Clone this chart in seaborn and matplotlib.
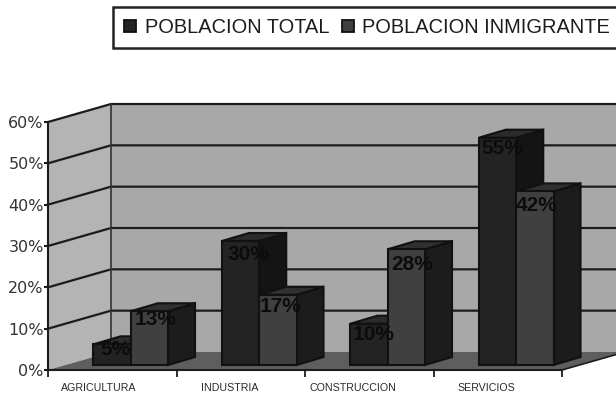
import matplotlib
matplotlib.use("Agg")
import matplotlib.pyplot as plt
from matplotlib.patches import Polygon, Patch
from matplotlib.transforms import Affine2D
import pandas as pd
import seaborn as sns

sectors = ["AGRICULTURA", "INDUSTRIA", "CONSTRUCCION", "SERVICIOS"]
total_pct = [5, 30, 10, 55]
immigrant_pct = [13, 17, 28, 42]
series_names = ["POBLACION TOTAL", "POBLACION INMIGRANTE"]
pct_ticks = [0, 10, 20, 30, 40, 50, 60]

# label nudges in pixels, one per bar
label_dx = [[3, 8, 4, 5], [6, 3, 6, 2]]
label_dy = [[-5, -13, -11, -11], [-8, -12, -15, -14]]
# horizontal shift of each category label, in pixels
sector_shift = [-14, -11, -16, -11]

front_colors = ["#232323", "#404040"]
side_colors = ["#141414", "#1c1c1c"]
top_colors = ["#2b2b2b", "#303030"]
INK = "#111111"

W, H = 616, 393
sns.set_theme(style="white")
plt.rcParams["font.family"] = ["DejaVu Sans"]
fig = plt.figure(figsize=(W / 100, H / 100), dpi=100)
ax = fig.add_axes([48 / W, (H - 370) / H, 514 / W, 248 / H])

df = pd.DataFrame({
    "sector": sectors * 2,
    "pct": total_pct + immigrant_pct,
    "serie": [series_names[0]] * 4 + [series_names[1]] * 4,
})
sns.barplot(data=df, x="sector", y="pct", hue="serie", order=sectors,
            hue_order=series_names, palette=front_colors, saturation=1,
            width=0.58, gap=0, legend=False, ax=ax, zorder=5)
ax.set_xlim(-0.5, 3.5)
ax.set_ylim(0, 60)
ax.set_xlabel("")
ax.set_ylabel("")

px_x = 514 / 4      # pixels per category
px_y = 248 / 60     # pixels per percentage point


def deep(x, y, dx, dy):
    """Data point displaced by a depth vector given in pixels."""
    return (x + dx / px_x, y + dy / px_y)


WALL_DX, WALL_DY = 63, 18
BAR_DX, BAR_DY = 27, 8
PLANE_DX, PLANE_DY = 18.5, 5
x0, x1 = -0.5, 3.5


def face(points, color, z):
    ax.add_patch(Polygon(points, closed=True, facecolor=color, edgecolor=color,
                         linewidth=0, zorder=z, clip_on=False))


# side wall, back wall and floor
face([(x0, 0), (x0, 60), deep(x0, 60, WALL_DX, WALL_DY), deep(x0, 0, WALL_DX, WALL_DY)], "#b4b4b4", 1)
face([deep(x0, 0, WALL_DX, WALL_DY), deep(x0, 60, WALL_DX, WALL_DY),
      deep(x1, 60, WALL_DX, WALL_DY), deep(x1, 0, WALL_DX, WALL_DY)], "#a8a8a8", 1)
face([(x0, 0), (x1, 0), deep(x1, 0, WALL_DX, WALL_DY), deep(x0, 0, WALL_DX, WALL_DY)], "#5e5e5e", 2)

# gridlines fold from the side wall onto the back wall
for t in pct_ticks[1:]:
    a = deep(x0, t, WALL_DX, WALL_DY)
    b = deep(x1, t, WALL_DX, WALL_DY)
    ax.plot([x0, a[0], b[0]], [t, a[1], b[1]], color="#1c1c1c", lw=1.6,
            zorder=3, clip_on=False, solid_joinstyle="miter")
floor_end = deep(x1, 0, WALL_DX, WALL_DY)
ax.plot([x1, floor_end[0]], [0, floor_end[1]], color="#1c1c1c", lw=1.2, zorder=3, clip_on=False)
corner_low = deep(x0, 0, WALL_DX, WALL_DY)
corner_high = deep(x0, 60, WALL_DX, WALL_DY)
ax.plot([corner_low[0], corner_high[0]], [corner_low[1], corner_high[1]],
        color="#333333", lw=1.2, zorder=3, clip_on=False)

# bars: front faces from the barplot, pushed into the plot's depth, then side and top faces
plane = ax.transData + Affine2D().translate(PLANE_DX, PLANE_DY)
for s, container in enumerate(ax.containers):
    for c, bar in enumerate(container):
        bx, bw, bh = bar.get_x(), bar.get_width(), bar.get_height()
        order = 5 + s * 10 + c * 0.1
        side = [(bx + bw, 0), (bx + bw, bh), deep(bx + bw, bh, BAR_DX, BAR_DY), deep(bx + bw, 0, BAR_DX, BAR_DY)]
        top = [(bx, bh), (bx + bw, bh), deep(bx + bw, bh, BAR_DX, BAR_DY), deep(bx, bh, BAR_DX, BAR_DY)]
        for pts, col in ((side, side_colors[s]), (top, top_colors[s])):
            ax.add_patch(Polygon(pts, closed=True, facecolor=col, edgecolor=INK, linewidth=1.5,
                                 transform=plane, zorder=order, clip_on=False))
        bar.set_transform(plane)
        bar.set_edgecolor(INK)
        bar.set_linewidth(1.5)
        bar.set_zorder(order + 0.05)
        bar.set_clip_on(False)
        ax.annotate(f"{int(bh)}%", xy=(bx + bw / 2, bh), xycoords=plane,
                    xytext=(label_dx[s][c] * 0.72, label_dy[s][c] * 0.72), textcoords="offset points",
                    ha="center", va="center", fontsize=15, fontweight="bold",
                    family="Liberation Sans", color="#0c0c0c", zorder=40, annotation_clip=False)

# axes frame
for name, spine in ax.spines.items():
    spine.set_visible(name in ("left", "bottom"))
    spine.set_color("#1c1c1c")
    spine.set_linewidth(1.5)
    spine.set_zorder(4)

ax.set_yticks(pct_ticks, [f"{t}%" for t in pct_ticks])
ax.tick_params(axis="y", left=True, length=3, width=1.5, color="#1c1c1c", pad=0,
               labelsize=11.5, labelcolor="#333333")
ax.set_xticks([-0.5, 0.5, 1.5, 2.5, 3.5], [""] * 5)
ax.set_xticks([0, 1, 2, 3], sectors, minor=True)
ax.tick_params(axis="x", which="major", bottom=True, length=5, width=1.3, color="#1c1c1c")
ax.tick_params(axis="x", which="minor", bottom=False, length=0, pad=9.5,
               labelsize=7.7, labelcolor="#2a2a2a")
for lab, dx in zip(ax.get_xticklabels(minor=True), sector_shift):
    lab.set_transform(lab.get_transform() + Affine2D().translate(dx, 0))
    lab.set_family("Liberation Sans")

handles = [Patch(facecolor=front_colors[i], edgecolor=INK, linewidth=1.3, label=series_names[i]) for i in range(2)]
leg = fig.legend(handles=handles, ncols=2, loc="upper left", bbox_to_anchor=(113 / W, (H - 7) / H),
                 borderaxespad=0, fancybox=False, frameon=True, edgecolor="#222222", framealpha=1,
                 handlelength=0.6, handleheight=0.6, handletextpad=0.45, columnspacing=0.6,
                 borderpad=0.55, prop={"family": "Liberation Sans", "size": 14.4}, labelcolor="#1c1c1c")
leg.get_frame().set_linewidth(1.8)

fig.savefig("out.png", dpi=100)
